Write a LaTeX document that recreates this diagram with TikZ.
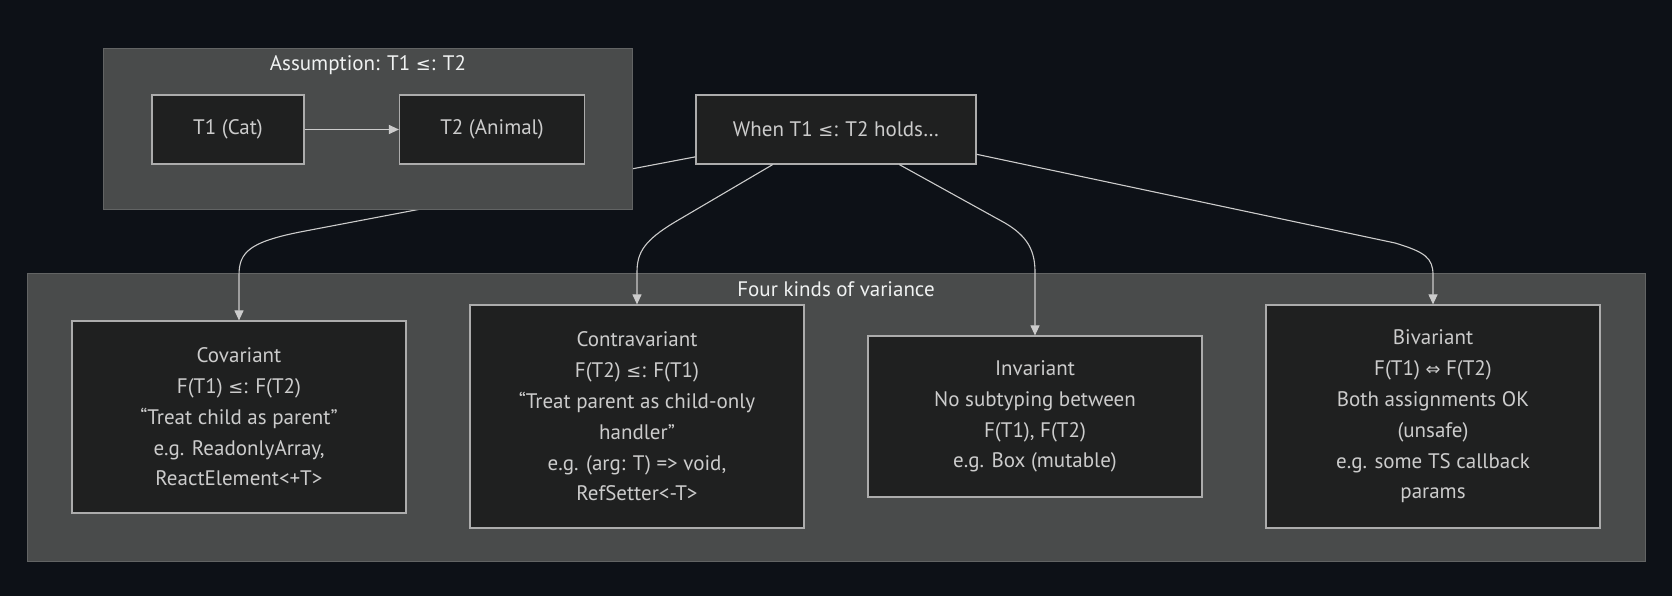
\documentclass[tikz,border=0pt]{standalone}
\usepackage{fontspec}
\setmainfont{PT Sans}
\newfontfamily\symfont[Scale=0.85]{DejaVu Sans}
\usetikzlibrary{arrows.meta}
\definecolor{pagebg}{RGB}{13,17,23}
\definecolor{clusterbg}{RGB}{73,75,75}
\definecolor{clusterline}{RGB}{98,100,100}
\definecolor{boxbg}{RGB}{31,32,32}
\definecolor{boxline}{RGB}{172,172,172}
\definecolor{boxtext}{RGB}{204,204,204}
\definecolor{titletext}{RGB}{240,242,242}
\definecolor{edgeline}{RGB}{204,204,204}
\newcommand{\subty}{{\symfont ≤}:}
\newcommand{\bothway}{{\symfont ⇔}}
\begin{document}
\begin{tikzpicture}[x=1pt,y=-1pt,>={Triangle[length=10pt,width=9pt]},font=\fontsize{21}{30.8}\selectfont,
	box/.style={draw=boxline,line width=1.2pt,fill=boxbg,text=boxtext,align=center,inner sep=0pt,minimum width=334pt},
	tbox/.style={box,minimum height=69pt},
	cluster/.style={draw=clusterline,line width=1pt,fill=clusterbg},
	title/.style={text=titletext,inner sep=0pt},
	edge/.style={draw=edgeline,line width=1.1pt,->}]
	\useasboundingbox[fill=pagebg] (0,0) rectangle (1672,596);
	\draw[cluster] (27,273) rectangle (1645,561);
	\node[title] (fourlbl) at (836,289) {Four kinds of variance};
	\node[box,minimum height=192pt] (cov) at (239,417) {Covariant\\F(T1) \subty{} F(T2)\\“Treat child as parent”\\e.g. ReadonlyArray,\\ReactElement<+T>};
	\node[box,minimum height=223pt] (contra) at (637,416.5) {Contravariant\\F(T2) \subty{} F(T1)\\“Treat parent as child-only\\handler”\\e.g. (arg: T) => void,\\RefSetter<-T>};
	\node[box,minimum height=161pt] (inv) at (1035,416.5) {Invariant\\No subtyping between\\F(T1), F(T2)\\e.g. Box (mutable)};
	\node[box,minimum height=223pt] (biv) at (1433,416.5) {Bivariant\\F(T1) \bothway{} F(T2)\\Both assignments OK\\(unsafe)\\e.g. some TS callback\\params};
	\node[tbox,minimum width=280pt] (when) at (836,129.5) {When T1 \subty{} T2 holds…};
	\draw[edge] (when.191) -- (300,232) .. controls (250,242) and (239,252) .. (239,275) -- (cov.north);
	\draw[edge] (when.209) -- (675,222) .. controls (645,240) and (637,252) .. (637,272) -- (contra.north);
	\draw[edge] (when.331) -- (1005,223) .. controls (1027,236) and (1035,250) .. (1035,272) -- (inv.north);
	\draw[edge] (when.350) -- (1395,243) .. controls (1425,252) and (1433,258) .. (1433,275) -- (biv.north);
	\draw[cluster] (103,49) rectangle (632,209);
	\node[title] (asmlbl) at (368,65) {Assumption: T1 \subty{} T2};
	\node[tbox,minimum width=152pt] (tone) at (228,129.5) {T1 (Cat)};
	\node[tbox,minimum width=185pt] (ttwo) at (492,129.5) {T2 (Animal)};
	\draw[edge] (tone) -- (ttwo);
\end{tikzpicture}
\end{document}
